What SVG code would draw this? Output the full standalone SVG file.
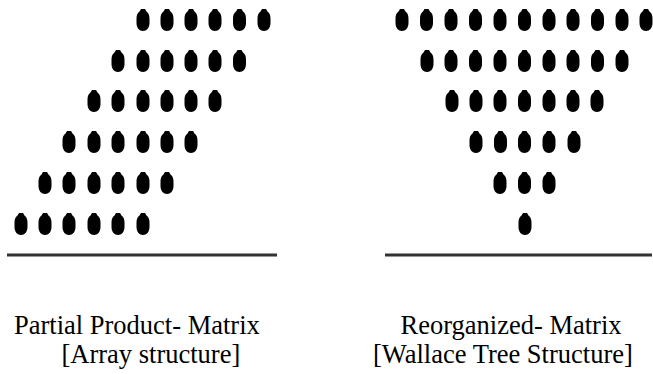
<svg xmlns="http://www.w3.org/2000/svg" xmlns:xlink="http://www.w3.org/1999/xlink" width="653" height="374" viewBox="0 0 653 374">
  <style>
    .rule { stroke: #333; stroke-width: 3; }
    .cap { font-family: "Liberation Serif", "Times New Roman", serif; font-size: 26.5px; fill: #000; }
  </style>
  <defs>
    <!-- one partial-product bit: tall oval with a small nub on top -->
    <path id="dot" d="M -2,-11 L 2,-11 L 3.5,-8.5 C 6,-7 6.5,-4 6.5,-1 L 6.5,3 C 6.5,8 3.5,11 0,11 C -3.5,11 -6.5,8 -6.5,3 L -6.5,-1 C -6.5,-4 -6,-7 -3.5,-8.5 Z" fill="#000"/>
  </defs>
  <rect width="653" height="374" fill="#fff"/>

  <!-- left: partial product matrix, array arrangement -->
  <g id="array-matrix">
    <g id="array-row1">
      <use xlink:href="#dot" x="143" y="20"/><use xlink:href="#dot" x="167" y="20"/><use xlink:href="#dot" x="191" y="20"/>
      <use xlink:href="#dot" x="215" y="20"/><use xlink:href="#dot" x="239.5" y="20"/><use xlink:href="#dot" x="264" y="20"/>
    </g>
    <g id="array-row2">
      <use xlink:href="#dot" x="118" y="61"/><use xlink:href="#dot" x="143" y="61"/><use xlink:href="#dot" x="167" y="61"/>
      <use xlink:href="#dot" x="191" y="61"/><use xlink:href="#dot" x="215" y="61"/><use xlink:href="#dot" x="239.5" y="61"/>
    </g>
    <g id="array-row3">
      <use xlink:href="#dot" x="94" y="101"/><use xlink:href="#dot" x="118" y="101"/><use xlink:href="#dot" x="143" y="101"/>
      <use xlink:href="#dot" x="167" y="101"/><use xlink:href="#dot" x="191" y="101"/><use xlink:href="#dot" x="215" y="101"/>
    </g>
    <g id="array-row4">
      <use xlink:href="#dot" x="69" y="142"/><use xlink:href="#dot" x="94" y="142"/><use xlink:href="#dot" x="118" y="142"/>
      <use xlink:href="#dot" x="143" y="142"/><use xlink:href="#dot" x="167" y="142"/><use xlink:href="#dot" x="191" y="142"/>
    </g>
    <g id="array-row5">
      <use xlink:href="#dot" x="45" y="183"/><use xlink:href="#dot" x="69" y="183"/><use xlink:href="#dot" x="94" y="183"/>
      <use xlink:href="#dot" x="118" y="183"/><use xlink:href="#dot" x="143" y="183"/><use xlink:href="#dot" x="167" y="183"/>
    </g>
    <g id="array-row6">
      <use xlink:href="#dot" x="21" y="224"/><use xlink:href="#dot" x="45" y="224"/><use xlink:href="#dot" x="69" y="224"/>
      <use xlink:href="#dot" x="94" y="224"/><use xlink:href="#dot" x="118" y="224"/><use xlink:href="#dot" x="143" y="224"/>
    </g>
    <line class="rule" x1="7" y1="255" x2="277" y2="255"/>
    <text class="cap" x="14" y="334">Partial Product- Matrix</text>
    <text class="cap" x="61.5" y="363">[Array structure]</text>
  </g>

  <!-- right: the same bits regrouped into the Wallace tree shape -->
  <g id="wallace-matrix">
    <g id="wallace-row1">
      <use xlink:href="#dot" x="402" y="20"/><use xlink:href="#dot" x="426.5" y="20"/><use xlink:href="#dot" x="451" y="20"/>
      <use xlink:href="#dot" x="475.5" y="20"/><use xlink:href="#dot" x="500" y="20"/><use xlink:href="#dot" x="524.5" y="20"/>
      <use xlink:href="#dot" x="549" y="20"/><use xlink:href="#dot" x="573" y="20"/><use xlink:href="#dot" x="597.5" y="20"/>
      <use xlink:href="#dot" x="622" y="20"/><use xlink:href="#dot" x="646" y="20"/>
    </g>
    <g id="wallace-row2">
      <use xlink:href="#dot" x="427" y="61"/><use xlink:href="#dot" x="451" y="61"/><use xlink:href="#dot" x="475.5" y="61"/>
      <use xlink:href="#dot" x="500" y="61"/><use xlink:href="#dot" x="524.5" y="61"/><use xlink:href="#dot" x="549" y="61"/>
      <use xlink:href="#dot" x="573" y="61"/><use xlink:href="#dot" x="597.5" y="61"/><use xlink:href="#dot" x="622" y="61"/>
    </g>
    <g id="wallace-row3">
      <use xlink:href="#dot" x="452" y="101"/><use xlink:href="#dot" x="476" y="101"/><use xlink:href="#dot" x="500" y="101"/>
      <use xlink:href="#dot" x="524.5" y="101"/><use xlink:href="#dot" x="549" y="101"/><use xlink:href="#dot" x="573" y="101"/>
      <use xlink:href="#dot" x="597" y="101"/>
    </g>
    <g id="wallace-row4">
      <use xlink:href="#dot" x="476" y="142"/><use xlink:href="#dot" x="500.5" y="142"/><use xlink:href="#dot" x="524.5" y="142"/>
      <use xlink:href="#dot" x="549" y="142"/><use xlink:href="#dot" x="574" y="142"/>
    </g>
    <g id="wallace-row5">
      <use xlink:href="#dot" x="500" y="183"/><use xlink:href="#dot" x="524.5" y="183"/><use xlink:href="#dot" x="549" y="183"/>
    </g>
    <g id="wallace-row6">
      <use xlink:href="#dot" x="525" y="224"/>
    </g>
    <line class="rule" x1="385" y1="255" x2="652" y2="255"/>
    <text class="cap" x="400.5" y="334">Reorganized- Matrix</text>
    <text class="cap" x="373" y="363">[Wallace Tree Structure]</text>
  </g>
</svg>
